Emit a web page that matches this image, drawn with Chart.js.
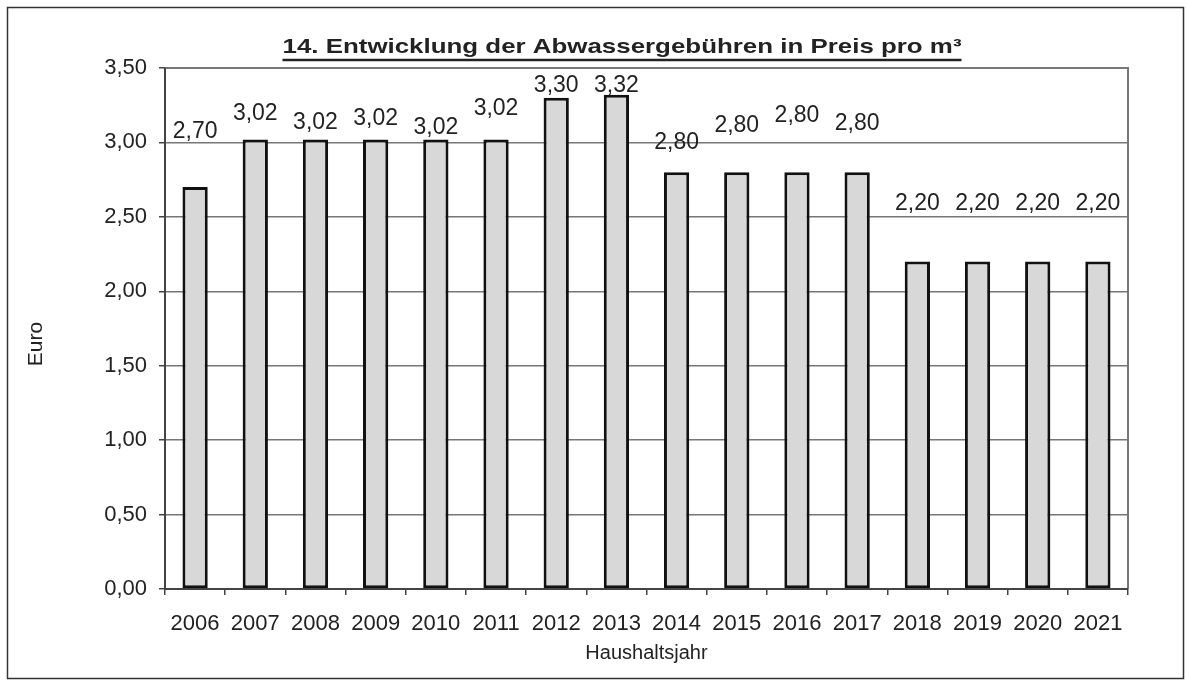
<!DOCTYPE html>
<html lang="de">
<head>
<meta charset="utf-8">
<title>Abwassergebühren</title>
<script src="https://cdn.jsdelivr.net/npm/chart.js@4/dist/chart.umd.min.js"></script>
<style>
    html, body { margin: 0; padding: 0; background: #fff; }
    #wrap { width: 1186px; height: 681px; position: relative; }
</style>
</head>
<body>
<div id="wrap"><canvas id="chartCanvas" width="1186" height="681"></canvas></div>
<script>
// Gebühren je m³ pro Haushaltsjahr
const years = ['2006', '2007', '2008', '2009', '2010', '2011', '2012', '2013',
               '2014', '2015', '2016', '2017', '2018', '2019', '2020', '2021'];
const prices = [2.70, 3.02, 3.02, 3.02, 3.02, 3.02, 3.30, 3.32,
                2.80, 2.80, 2.80, 2.80, 2.20, 2.20, 2.20, 2.20];
const yTicks = [0, 0.5, 1, 1.5, 2, 2.5, 3, 3.5];

const titleText = '14. Entwicklung der Abwassergebühren in Preis pro m³';
const yTitle = 'Euro';
const xTitle = 'Haushaltsjahr';

// Abstand der Wertbeschriftung über dem Balkenende (px)
const labelLift = [55, 26, 17, 21, 12, 31, 12, 9, 30, 47, 57, 49, 58, 58, 58, 58];

const fmt = v => v.toFixed(2).replace('.', ',');
const FONT = '"Liberation Sans", Arial, sans-serif';
const INK = '#222';

// Rahmen, Titel, Achsentitel und Wertbeschriftungen
const decorPlugin = {
    id: 'decor',
    beforeDraw(chart) {
        const c = chart.ctx;
        c.save();
        c.fillStyle = '#fff';
        c.fillRect(0, 0, chart.width, chart.height);
        c.strokeStyle = '#333';
        c.lineWidth = 1.5;
        c.strokeRect(7.5, 7.5, 1176, 671);
        c.restore();
    },
    afterDraw(chart) {
        const c = chart.ctx;
        const area = chart.chartArea;
        c.save();

        // Rahmen der Zeichenfläche
        c.strokeStyle = '#777';
        c.lineWidth = 2;
        c.beginPath();
        c.moveTo(area.left, area.top);
        c.lineTo(area.right, area.top);
        c.lineTo(area.right, area.bottom);
        c.stroke();
        c.strokeStyle = '#444';
        c.beginPath();
        c.moveTo(area.left, area.top);
        c.lineTo(area.left, area.bottom);
        c.lineTo(area.right, area.bottom);
        c.stroke();

        // Titel, breit gesetzt und unterstrichen
        c.fillStyle = INK;
        c.font = 'bold 21px ' + FONT;
        c.textAlign = 'center';
        c.textBaseline = 'alphabetic';
        const tx = 622, ty = 53, tw = 679;
        const w = c.measureText(titleText).width;
        c.save();
        c.translate(tx, ty);
        c.scale(tw / w, 1);
        c.fillText(titleText, 0, 0);
        c.restore();
        c.strokeStyle = INK;
        c.lineWidth = 2.5;
        c.beginPath();
        c.moveTo(tx - tw / 2, ty + 7);
        c.lineTo(tx + tw / 2, ty + 7);
        c.stroke();

        // Achsentitel
        c.font = '20px ' + FONT;
        c.textBaseline = 'middle';
        c.fillText(xTitle, (area.left + area.right) / 2, 653);
        c.save();
        c.translate(36, 344);
        c.rotate(-Math.PI / 2);
        c.font = '21px ' + FONT;
        c.fillText(yTitle, 0, 0);
        c.restore();

        // Wertbeschriftungen
        c.font = '23px ' + FONT;
        const meta = chart.getDatasetMeta(0);
        meta.data.forEach((bar, i) => {
            c.fillText(fmt(prices[i]), bar.x, bar.y - labelLift[i]);
        });
        c.restore();
    }
};

const ctx = document.getElementById('chartCanvas').getContext('2d');
new Chart(ctx, {
    type: 'bar',
    data: {
        labels: years,
        datasets: [{
            data: prices,
            backgroundColor: '#d8d8d8',
            borderColor: '#111',
            borderWidth: 3,
            borderSkipped: false,
            barPercentage: 0.42,
            categoryPercentage: 1
        }]
    },
    options: {
        responsive: false,
        animation: false,
        layout: { padding: { top: 68, right: 58, left: 0, bottom: 0 } },
        plugins: {
            legend: { display: false },
            title: { display: false },
            tooltip: { enabled: false }
        },
        scales: {
            x: {
                grid: {
                    offset: true,
                    drawOnChartArea: false,
                    drawTicks: true,
                    tickLength: 6,
                    color: '#444',
                    lineWidth: 1.5
                },
                border: { display: false },
                ticks: {
                    color: INK,
                    font: { family: FONT, size: 22 },
                    padding: 16,
                    maxRotation: 0,
                    autoSkip: false
                },
                afterFit(scale) { scale.height = 92; }
            },
            y: {
                min: 0,
                max: 3.5,
                afterBuildTicks(scale) {
                    scale.ticks = yTicks.map(v => ({ value: v }));
                },
                grid: {
                    color: '#777',
                    lineWidth: 1.5,
                    tickLength: 6,
                    tickColor: '#444'
                },
                border: { display: false },
                ticks: {
                    color: INK,
                    font: { family: FONT, size: 22 },
                    padding: 12,
                    callback: v => fmt(v)
                },
                afterFit(scale) { scale.width = 165; }
            }
        }
    },
    plugins: [decorPlugin]
});
</script>
</body>
</html>
